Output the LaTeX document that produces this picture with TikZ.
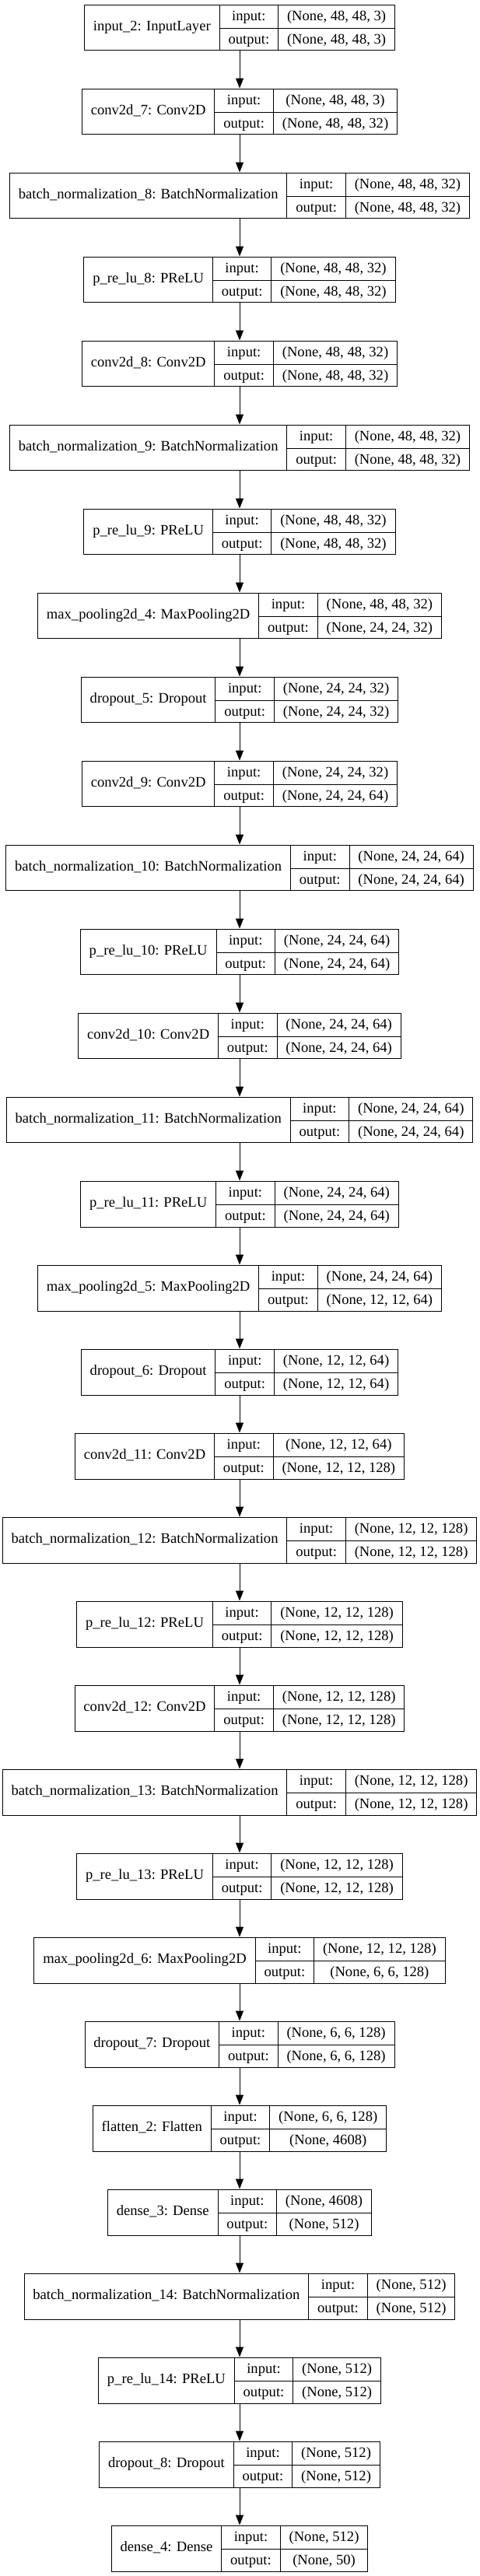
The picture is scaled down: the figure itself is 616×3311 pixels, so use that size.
\documentclass[tikz,border=0pt]{standalone}
\usepackage{fontspec}
\setmainfont{Liberation Serif}
\usepackage{multirow}
\usetikzlibrary{arrows.meta}
\setlength{\arrayrulewidth}{1pt}
\setlength{\tabcolsep}{11.4pt}
\renewcommand{\arraystretch}{1.34}
\newcommand{\layerbox}[3]{\begin{tabular}{c|c|c}\multirow{2}{*}{#1} & input: & #2\\ \cline{2-3} & output: & #3\end{tabular}}
\tikzset{layer/.style={draw,line width=1pt,inner sep=0pt},
	flow/.style={line width=1pt,-{Triangle[length=13pt,width=10pt]}}}

\begin{document}
\begin{tikzpicture}[x=1pt,y=1pt,font=\fontsize{18.6}{22}\selectfont]
	 	 		\useasboundingbox (0,0) rectangle (616,-3311);
	 	 		\node[layer] (in2) at (308,-35.5) {\layerbox{input\_2: InputLayer}{(None, 48, 48, 3)}{(None, 48, 48, 3)}};
	 	 		\node[layer] (conv7) at (308,-143.5) {\layerbox{conv2d\_7: Conv2D}{(None, 48, 48, 3)}{(None, 48, 48, 32)}};
	 	 		\node[layer] (bn8) at (308,-251.5) {\layerbox{batch\_normalization\_8: BatchNormalization}{(None, 48, 48, 32)}{(None, 48, 48, 32)}};
	 	 		\node[layer] (prelu8) at (308,-359.5) {\layerbox{p\_re\_lu\_8: PReLU}{(None, 48, 48, 32)}{(None, 48, 48, 32)}};
	 	 		\node[layer] (conv8) at (308,-467.5) {\layerbox{conv2d\_8: Conv2D}{(None, 48, 48, 32)}{(None, 48, 48, 32)}};
	 	 		\node[layer] (bn9) at (308,-575.5) {\layerbox{batch\_normalization\_9: BatchNormalization}{(None, 48, 48, 32)}{(None, 48, 48, 32)}};
	 	 		\node[layer] (prelu9) at (308,-683.5) {\layerbox{p\_re\_lu\_9: PReLU}{(None, 48, 48, 32)}{(None, 48, 48, 32)}};
	 	 		\node[layer] (pool4) at (308,-791.5) {\layerbox{max\_pooling2d\_4: MaxPooling2D}{(None, 48, 48, 32)}{(None, 24, 24, 32)}};
	 	 		\node[layer] (drop5) at (308,-899.5) {\layerbox{dropout\_5: Dropout}{(None, 24, 24, 32)}{(None, 24, 24, 32)}};
	 	 		\node[layer] (conv9) at (308,-1007.5) {\layerbox{conv2d\_9: Conv2D}{(None, 24, 24, 32)}{(None, 24, 24, 64)}};
	 	 		\node[layer] (bn10) at (308,-1115.5) {\layerbox{batch\_normalization\_10: BatchNormalization}{(None, 24, 24, 64)}{(None, 24, 24, 64)}};
	 	 		\node[layer] (prelu10) at (308,-1223.5) {\layerbox{p\_re\_lu\_10: PReLU}{(None, 24, 24, 64)}{(None, 24, 24, 64)}};
	 	 		\node[layer] (conv10) at (308,-1331.5) {\layerbox{conv2d\_10: Conv2D}{(None, 24, 24, 64)}{(None, 24, 24, 64)}};
	 	 		\node[layer] (bn11) at (308,-1439.5) {\layerbox{batch\_normalization\_11: BatchNormalization}{(None, 24, 24, 64)}{(None, 24, 24, 64)}};
	 	 		\node[layer] (prelu11) at (308,-1547.5) {\layerbox{p\_re\_lu\_11: PReLU}{(None, 24, 24, 64)}{(None, 24, 24, 64)}};
	 	 		\node[layer] (pool5) at (308,-1655.5) {\layerbox{max\_pooling2d\_5: MaxPooling2D}{(None, 24, 24, 64)}{(None, 12, 12, 64)}};
	 	 		\node[layer] (drop6) at (308,-1763.5) {\layerbox{dropout\_6: Dropout}{(None, 12, 12, 64)}{(None, 12, 12, 64)}};
	 	 		\node[layer] (conv11) at (308,-1871.5) {\layerbox{conv2d\_11: Conv2D}{(None, 12, 12, 64)}{(None, 12, 12, 128)}};
	 	 		\node[layer] (bn12) at (308,-1979.5) {\layerbox{batch\_normalization\_12: BatchNormalization}{(None, 12, 12, 128)}{(None, 12, 12, 128)}};
	 	 		\node[layer] (prelu12) at (308,-2087.5) {\layerbox{p\_re\_lu\_12: PReLU}{(None, 12, 12, 128)}{(None, 12, 12, 128)}};
	 	 		\node[layer] (conv12) at (308,-2195.5) {\layerbox{conv2d\_12: Conv2D}{(None, 12, 12, 128)}{(None, 12, 12, 128)}};
	 	 		\node[layer] (bn13) at (308,-2303.5) {\layerbox{batch\_normalization\_13: BatchNormalization}{(None, 12, 12, 128)}{(None, 12, 12, 128)}};
	 	 		\node[layer] (prelu13) at (308,-2411.5) {\layerbox{p\_re\_lu\_13: PReLU}{(None, 12, 12, 128)}{(None, 12, 12, 128)}};
	 	 		\node[layer] (pool6) at (308,-2519.5) {\layerbox{max\_pooling2d\_6: MaxPooling2D}{(None, 12, 12, 128)}{(None, 6, 6, 128)}};
	 	 		\node[layer] (drop7) at (308,-2627.5) {\layerbox{dropout\_7: Dropout}{(None, 6, 6, 128)}{(None, 6, 6, 128)}};
	 	 		\node[layer] (flat2) at (308,-2735.5) {\layerbox{flatten\_2: Flatten}{(None, 6, 6, 128)}{(None, 4608)}};
	 	 		\node[layer] (dense3) at (308,-2843.5) {\layerbox{dense\_3: Dense}{(None, 4608)}{(None, 512)}};
	 	 		\node[layer] (bn14) at (308,-2951.5) {\layerbox{batch\_normalization\_14: BatchNormalization}{(None, 512)}{(None, 512)}};
	 	 		\node[layer] (prelu14) at (308,-3059.5) {\layerbox{p\_re\_lu\_14: PReLU}{(None, 512)}{(None, 512)}};
	 	 		\node[layer] (drop8) at (308,-3167.5) {\layerbox{dropout\_8: Dropout}{(None, 512)}{(None, 512)}};
	 	 		\node[layer] (dense4) at (308,-3275.5) {\layerbox{dense\_4: Dense}{(None, 512)}{(None, 50)}};
	 	 		\draw[flow] (in2) -- (conv7);
	 	 		\draw[flow] (conv7) -- (bn8);
	 	 		\draw[flow] (bn8) -- (prelu8);
	 	 		\draw[flow] (prelu8) -- (conv8);
	 	 		\draw[flow] (conv8) -- (bn9);
	 	 		\draw[flow] (bn9) -- (prelu9);
	 	 		\draw[flow] (prelu9) -- (pool4);
	 	 		\draw[flow] (pool4) -- (drop5);
	 	 		\draw[flow] (drop5) -- (conv9);
	 	 		\draw[flow] (conv9) -- (bn10);
	 	 		\draw[flow] (bn10) -- (prelu10);
	 	 		\draw[flow] (prelu10) -- (conv10);
	 	 		\draw[flow] (conv10) -- (bn11);
	 	 		\draw[flow] (bn11) -- (prelu11);
	 	 		\draw[flow] (prelu11) -- (pool5);
	 	 		\draw[flow] (pool5) -- (drop6);
	 	 		\draw[flow] (drop6) -- (conv11);
	 	 		\draw[flow] (conv11) -- (bn12);
	 	 		\draw[flow] (bn12) -- (prelu12);
	 	 		\draw[flow] (prelu12) -- (conv12);
	 	 		\draw[flow] (conv12) -- (bn13);
	 	 		\draw[flow] (bn13) -- (prelu13);
	 	 		\draw[flow] (prelu13) -- (pool6);
	 	 		\draw[flow] (pool6) -- (drop7);
	 	 		\draw[flow] (drop7) -- (flat2);
	 	 		\draw[flow] (flat2) -- (dense3);
	 	 		\draw[flow] (dense3) -- (bn14);
	 	 		\draw[flow] (bn14) -- (prelu14);
	 	 		\draw[flow] (prelu14) -- (drop8);
	 	 		\draw[flow] (drop8) -- (dense4);
	 	 		\end{tikzpicture}
\end{document}
